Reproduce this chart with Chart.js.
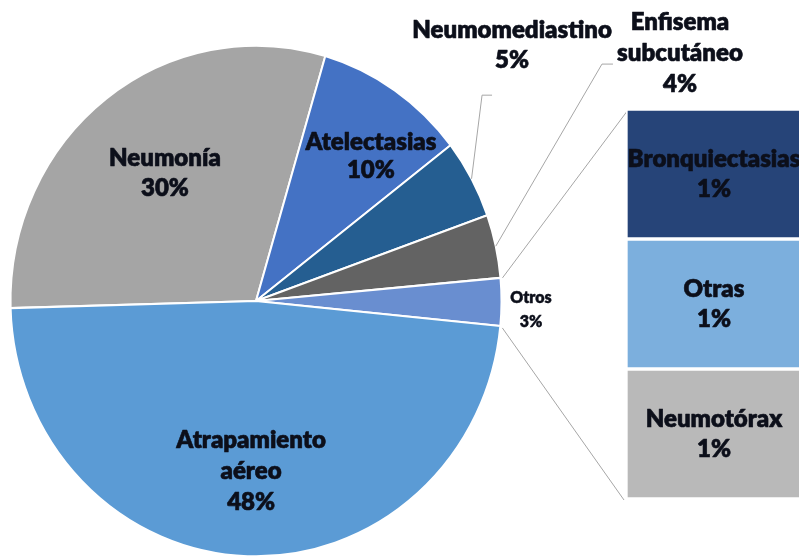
<!DOCTYPE html>
<html><head><meta charset="utf-8">
<script src="https://cdn.jsdelivr.net/npm/chart.js@4.4.1/dist/chart.umd.min.js"></script>
<style>
html,body{margin:0;padding:0;width:799px;height:558px;overflow:hidden;background:#fff;}
#pie{position:absolute;left:0;top:0;}
#bar{position:absolute;left:626px;top:0;}
</style></head><body>
<canvas id="pie" width="799" height="558"></canvas>
<canvas id="bar" width="176" height="558"></canvas>
<script>
// ---- data ----
const pieCategories = [["Neumonía"], ["Atelectasias"], ["Neumomediastino"], ["Enfisema", "subcutáneo"], ["Otros"], ["Atrapamiento", "aéreo"]];
const pieValues = [30, 10, 5, 4, 3, 48];
const barCategories = [["Bronquiectasias"], ["Otras"], ["Neumotórax"]];
const barValues = [1, 1, 1];

// ---- styles ----
const pieColors = ['#A5A5A5', '#4472C4', '#255E91', '#636363', '#698ED0', '#5B9BD5'];
const barColors = ['#264478', '#7CAFDD', '#B9B9B9'];
const TEXT = '#0c0f1a';
const LINE = '#a6a6a6';
const SY = 1.04; // vertical stretch of the pie
// label placement: offset of the text block centre from the pie centre, in units of the radius
const pieLabelPlace = [
  {fx: -0.371, fy: -0.501, size: 24, lh: 30},
  {fx: 0.468, fy: -0.566, size: 24, lh: 28},
  {fx: 1.043, fy: -1.002, size: 24, lh: 30, leader: [[-30, 50], [-20, 50]]},
  {fx: 1.727, fy: -0.971, size: 24, lh: 31, leader: [[-78, 11], [-67, 11]]},
  {fx: 1.120, fy: 0.033, size: 16, lh: 24},
  {fx: -0.020, fy: 0.665, size: 24, lh: 31}
];
const FONT = 'Lato, "Open Sans", sans-serif';

function pct(v, tot) { return Math.round(v / tot * 100) + '%'; }

function drawBlock(ctx, lines, x, y, size, lh) {
  ctx.save();
  ctx.font = '800 ' + size + 'px ' + FONT;
  ctx.fillStyle = TEXT;
  ctx.strokeStyle = TEXT;
  ctx.lineWidth = size > 20 ? 0.6 : 0.4;
  ctx.lineJoin = 'round';
  ctx.textAlign = 'center';
  ctx.textBaseline = 'middle';
  const y0 = y - (lines.length - 1) * lh / 2;
  lines.forEach((t, i) => { ctx.fillText(t, x, y0 + i * lh); ctx.strokeText(t, x, y0 + i * lh); });
  ctx.restore();
}

// ---- bar of pie ----
const barTotal = pieValues.reduce((a, b) => a + b, 0);
const barChart = new Chart(document.getElementById('bar'), {
  type: 'bar',
  data: {
    labels: [''],
    datasets: barCategories.map((c, i) => ({
      label: c.join(' '),
      data: [barValues[i]],
      backgroundColor: barColors[i],
      borderColor: '#ffffff',
      borderWidth: 2,
      borderSkipped: false,
      barPercentage: 1,
      categoryPercentage: 1
    }))
  },
  options: {
    responsive: false,
    animation: false,
    layout: {padding: {top: 109, bottom: 59, left: 0, right: 0}},
    scales: {
      x: {display: false, stacked: true},
      y: {display: false, stacked: true, reverse: true, min: 0, max: barValues.reduce((a, b) => a + b, 0)}
    },
    plugins: {legend: {display: false}, tooltip: {enabled: false}}
  },
  plugins: [{
    id: 'barLabels',
    afterDatasetsDraw(chart) {
      const ctx = chart.ctx;
      chart.data.datasets.forEach((ds, i) => {
        const el = chart.getDatasetMeta(i).data[0];
        const cy = (el.y + el.base) / 2;
        drawBlock(ctx, [...barCategories[i], pct(barValues[i], barTotal)], el.x, cy, 24, 30);
      });
    }
  }]
});

// ---- pie ----
const pieTotal = pieValues.reduce((a, b) => a + b, 0);
function arcPoint(el, ang) {
  return [el.x + el.outerRadius * Math.cos(ang), el.y + el.outerRadius * SY * Math.sin(ang)];
}
new Chart(document.getElementById('pie'), {
  type: 'pie',
  data: {
    labels: pieCategories.map(c => c.join(' ')),
    datasets: [{
      data: pieValues,
      backgroundColor: pieColors,
      borderColor: '#ffffff',
      borderWidth: 2
    }]
  },
  options: {
    responsive: false,
    animation: false,
    rotation: 268.4,
    layout: {padding: {left: 9.5, top: 54.5, right: 296.5, bottom: 10.5}},
    plugins: {legend: {display: false}, tooltip: {enabled: false}}
  },
  plugins: [{
    id: 'ellipse',
    beforeDatasetsDraw(chart) {
      const el = chart.getDatasetMeta(0).data[0];
      const ctx = chart.ctx;
      ctx.save();
      ctx.translate(el.x, el.y);
      ctx.scale(1, SY);
      ctx.translate(-el.x, -el.y);
    },
    afterDatasetsDraw(chart) { chart.ctx.restore(); }
  }, {
    id: 'pieLabels',
    afterDraw(chart) {
      const ctx = chart.ctx;
      const arcs = chart.getDatasetMeta(0).data;
      const R = arcs[0].outerRadius;
      // connector lines to the bar
      const other = arcs[4];
      const bm = barChart.getDatasetMeta(0).data[0];
      const bl = barChart.getDatasetMeta(barCategories.length - 1).data[0];
      const off = 626;
      const barLeft = off + bm.x - bm.width / 2 + 2;
      ctx.save();
      ctx.strokeStyle = LINE;
      ctx.lineWidth = 1;
      const p1 = arcPoint(other, other.startAngle);
      const p2 = arcPoint(other, other.endAngle);
      ctx.beginPath();
      ctx.moveTo(p1[0] + 2, p1[1]); ctx.lineTo(barLeft, Math.min(bm.y, bm.base) + 1);
      ctx.moveTo(p2[0] + 2, p2[1] + 2); ctx.lineTo(barLeft - 4, Math.max(bl.y, bl.base) + 1);
      ctx.stroke();
      ctx.restore();

      arcs.forEach((el, i) => {
        const pl = pieLabelPlace[i];
        const lx = el.x + pl.fx * R;
        const ly = el.y + pl.fy * R * SY;
        if (pl.leader) {
          const mid = (el.startAngle + el.endAngle) / 2;
          const m = arcPoint(el, mid);
          ctx.save();
          ctx.strokeStyle = LINE;
          ctx.lineWidth = 1;
          ctx.beginPath();
          ctx.moveTo(m[0], m[1]);
          ctx.lineTo(lx + pl.leader[0][0], ly + pl.leader[0][1]);
          ctx.lineTo(lx + pl.leader[1][0], ly + pl.leader[1][1]);
          ctx.stroke();
          ctx.restore();
        }
        drawBlock(ctx, [...pieCategories[i], pct(pieValues[i], pieTotal)], lx, ly, pl.size, pl.lh);
      });
    }
  }]
});
</script>
</body></html>
